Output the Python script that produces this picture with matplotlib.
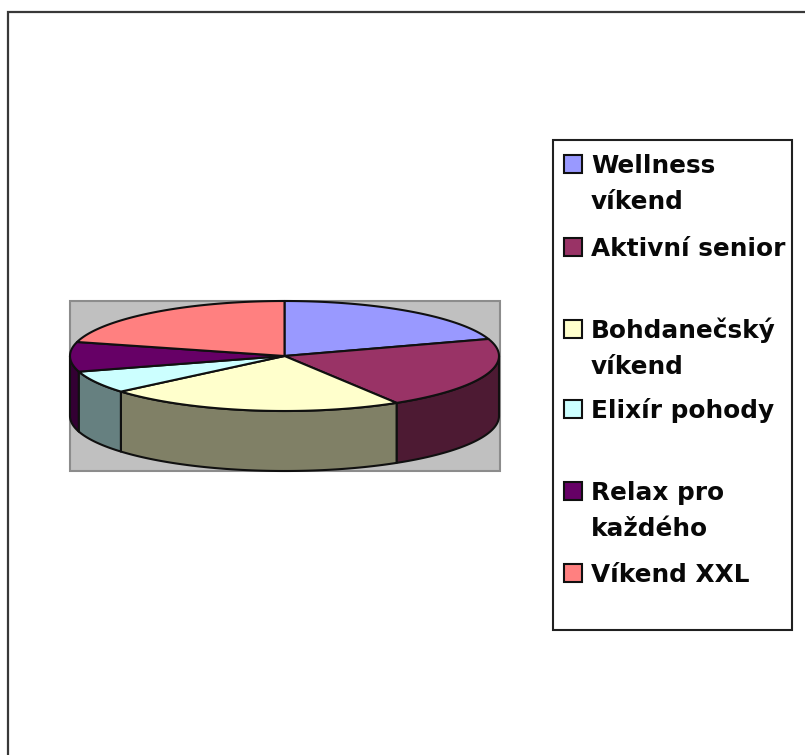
import numpy as np
import matplotlib
matplotlib.use("Agg")
import matplotlib.pyplot as plt
from matplotlib.patches import Rectangle

W, H = 805, 755
categories = ["Wellness\nvíkend", "Aktivní senior", "Bohdanečský\nvíkend",
              "Elixír pohody", "Relax pro\nkaždého", "Víkend XXL"]
values = [20.0, 21.25, 22.55, 6.6, 8.7, 20.9]
top_colors = ["#9999FF", "#993366", "#FFFFCC", "#CCFFFF", "#660066", "#FF8080"]
side_colors = ["#4D4D80", "#4D1A33", "#808066", "#668080", "#330033", "#804040"]
legend_baselines = [173, 256, 338, 418, 500, 582]

CX, CY, RX, RY, DEPTH = 284.5, 356, 214.5, 55, 60
LINE_PITCH = 36
EDGE = "#101010"

fig = plt.figure(figsize=(W / 100, H / 100), dpi=100, facecolor="white")
ax = fig.add_axes([0, 0, 1, 1])
ax.set_xlim(0, W)
ax.set_ylim(H, 0)
ax.axis("off")

# chart frame: open on the right and bottom edges as in the screenshot crop
ax.add_patch(Rectangle((8, 12), 820, 760, fc="white", ec="#383838", lw=1.6, zorder=0))
# plot area
ax.add_patch(Rectangle((70, 301), 430, 170, fc="#C0C0C0", ec="#8C8C8C", lw=1.5, zorder=1))

fr = np.array(values) / sum(values)
bounds = np.concatenate([[0], np.cumsum(fr)]) * 2 * np.pi  # clockwise from top


def ell(t, dy=0.0):
    return CX + RX * np.sin(t), CY - RY * np.cos(t) + dy


# side walls: draw from the outer edges toward the front so that nearer walls overlap
order = sorted(range(len(values)), key=lambda i: -abs(((bounds[i] + bounds[i + 1]) / 2) - np.pi))
for i in order:
    a = max(bounds[i], np.pi / 2)
    b = min(bounds[i + 1], 3 * np.pi / 2)
    if b <= a:
        continue
    t = np.linspace(a, b, 120)
    x, y = ell(t)
    x2, y2 = ell(t[::-1], DEPTH)
    ax.fill(np.r_[x, x2], np.r_[y, y2], fc=side_colors[i], ec=EDGE, lw=1.5, zorder=2, joinstyle="round")

# top faces
for i in range(len(values)):
    t = np.linspace(bounds[i], bounds[i + 1], 160)
    x, y = ell(t)
    ax.fill(np.r_[CX, x], np.r_[CY, y], fc=top_colors[i], ec=EDGE, lw=1.5, zorder=3, joinstyle="round")

# legend
ax.add_patch(Rectangle((553, 139.5), 239, 490, fc="white", ec="#202020", lw=1.5, zorder=4))
for label, c, y in zip(categories, top_colors, legend_baselines):
    ax.add_patch(Rectangle((563.5, y - 18), 18, 18, fc=c, ec="#101010", lw=1.5, zorder=5))
    for k, line in enumerate(label.split("\n")):
        ax.text(591, y + k * LINE_PITCH, line, fontsize=17.8, fontweight="bold", family="DejaVu Sans",
                color="#080808", va="baseline", ha="left", zorder=5)

fig.savefig("out.png", dpi=100, facecolor="white")
